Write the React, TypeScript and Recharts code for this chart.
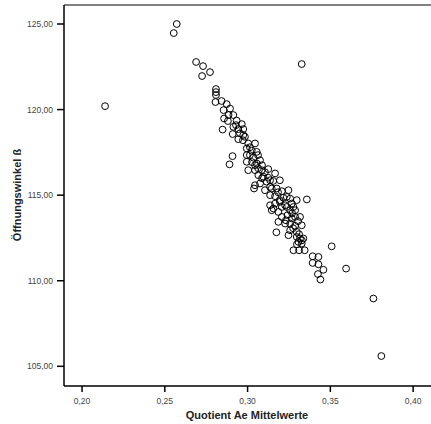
import React from 'react';
import { ScatterChart, Scatter, XAxis, YAxis, ReferenceLine } from 'recharts';

// Quotient Ae Mittelwerte (x) and Öffnungswinkel ß (y), read point by point
const quotient = [
  0.2139, 0.2554, 0.2572, 0.2689, 0.2731, 0.2725, 0.2773, 0.2809, 0.2809, 0.2809,
  0.2806, 0.2843, 0.2874, 0.2894, 0.2855, 0.2885, 0.2914, 0.2858, 0.2934, 0.2965,
  0.2914, 0.2944, 0.2974, 0.2849, 0.2910, 0.2944, 0.2974, 0.2954, 0.2984, 0.3004,
  0.3045, 0.2995, 0.3025, 0.3055, 0.3075, 0.3014, 0.3035, 0.2995, 0.2995, 0.3055,
  0.3045, 0.3004, 0.2909, 0.2891, 0.3085, 0.3125, 0.3045, 0.3065, 0.3095, 0.3125,
  0.3136, 0.3166, 0.3045, 0.3039, 0.3075, 0.3115, 0.3155, 0.3195, 0.3105, 0.3136,
  0.3146, 0.3176, 0.3207, 0.3136, 0.3166, 0.3216, 0.3247, 0.3257, 0.3237, 0.3195,
  0.3166, 0.3136, 0.3156, 0.3195, 0.3227, 0.3267, 0.3297, 0.3207, 0.3237, 0.3277,
  0.3146, 0.3186, 0.3257, 0.3287, 0.3358, 0.3207, 0.3241, 0.3267, 0.3287, 0.3317,
  0.3186, 0.3227, 0.3257, 0.3287, 0.3327, 0.3174, 0.3257, 0.3297, 0.3247, 0.3297,
  0.3317, 0.3337, 0.3307, 0.3327, 0.3508, 0.3277, 0.3311, 0.3345, 0.3393, 0.3428,
  0.3393, 0.3428, 0.3458, 0.3425, 0.3440, 0.3595, 0.3760, 0.3808, 0.3327, 0.2972,
  0.3014, 0.3063, 0.3027, 0.3087, 0.3063, 0.3105, 0.3269, 0.3305, 0.3275, 0.3311,
  0.3328, 0.3298, 0.3232, 0.3184, 0.3087, 0.2930, 0.2881,
];

const angle = [
  120.20, 124.47, 125.00, 122.78, 122.54, 121.96, 122.19, 121.20, 121.02, 120.85,
  120.44, 120.50, 120.32, 120.06, 119.97, 119.68, 119.68, 119.48, 119.36, 119.15,
  118.99, 118.86, 118.86, 118.83, 118.57, 118.27, 118.51, 118.61, 118.41, 118.02,
  118.02, 117.73, 117.60, 117.53, 117.04, 117.34, 117.19, 116.95, 117.34, 116.85,
  116.75, 116.46, 117.28, 116.80, 116.46, 116.52, 116.46, 116.17, 116.08, 116.02,
  115.87, 116.27, 115.58, 115.39, 115.68, 115.79, 115.83, 115.87, 115.29, 115.48,
  115.39, 115.39, 115.23, 115.00, 114.94, 114.85, 115.29, 114.80, 114.90, 114.71,
  114.51, 114.41, 114.22, 114.61, 114.41, 114.51, 114.71, 114.31, 114.31, 114.31,
  114.12, 114.02, 114.12, 114.12, 114.75, 113.73, 113.83, 113.64, 113.73, 113.73,
  113.44, 113.34, 113.34, 113.21, 113.24, 112.83, 112.95, 112.85, 112.66, 112.56,
  112.47, 112.47, 112.27, 112.17, 112.01, 111.78, 111.78, 111.78, 111.43, 111.39,
  111.04, 110.96, 110.64, 110.39, 110.07, 110.71, 108.96, 105.60, 122.66, 118.21,
  117.80, 117.34, 116.93, 116.75, 116.58, 116.34, 113.94, 113.48, 113.07, 112.72,
  112.36, 112.13, 113.53, 115.17, 115.99, 119.09, 119.33,
];

const xTicks = [0.2, 0.25, 0.3, 0.35, 0.4];
const yTicks = [105, 110, 115, 120, 125];
const xDomain = [0.1891, 0.4108];
const yDomain = [103.85, 126.11];

const points = quotient.map((q, i) => ({ x: q, y: angle[i] }));

const font = '"Liberation Sans", Arial, sans-serif';
const fmt = (v: number) => v.toFixed(2).replace('.', ',');

const Ring = (p: any) => (
  <circle cx={p.cx} cy={p.cy} r={3.4} fill="none" stroke="#000" strokeWidth={1} />
);

const XTitle = () => (
  <text x={247} y={419} textAnchor="middle" fontFamily={font} fontSize={11} fontWeight="bold" fill="#222">
    Quotient Ae Mittelwerte
  </text>
);

const YTitle = () => (
  <text
    x={21}
    y={195}
    textAnchor="middle"
    transform="rotate(-90, 21, 195)"
    fontFamily={font}
    fontSize={11}
    fontWeight="bold"
    fill="#222"
  >
    Öffnungswinkel ß
  </text>
);

export default function App() {
  return (
    <div style={{ width: 431, height: 424, background: '#fff' }}>
      <style>{'body{margin:0}'}</style>
      <ScatterChart width={431} height={424} margin={{ top: 5, right: 0, bottom: 0, left: 0 }}>
        <XAxis
          type="number"
          dataKey="x"
          domain={xDomain}
          ticks={xTicks}
          allowDataOverflow
          height={38}
          tickSize={6}
          tickMargin={6}
          tickFormatter={fmt}
          stroke="#000"
          strokeWidth={1.5}
          tick={{ fill: '#444', fontSize: 8.5, fontFamily: font }}
          label={<XTitle />}
        />
        <YAxis
          type="number"
          dataKey="y"
          domain={yDomain}
          ticks={yTicks}
          allowDataOverflow
          width={64}
          tickSize={7}
          tickMargin={4}
          tickFormatter={fmt}
          stroke="#000"
          strokeWidth={1.5}
          tick={{ fill: '#444', fontSize: 8.5, fontFamily: font }}
          label={<YTitle />}
        />
        <ReferenceLine y={yDomain[1]} stroke="#808080" strokeWidth={2} />
        <Scatter data={points} shape={Ring} isAnimationActive={false} />
      </ScatterChart>
    </div>
  );
}
